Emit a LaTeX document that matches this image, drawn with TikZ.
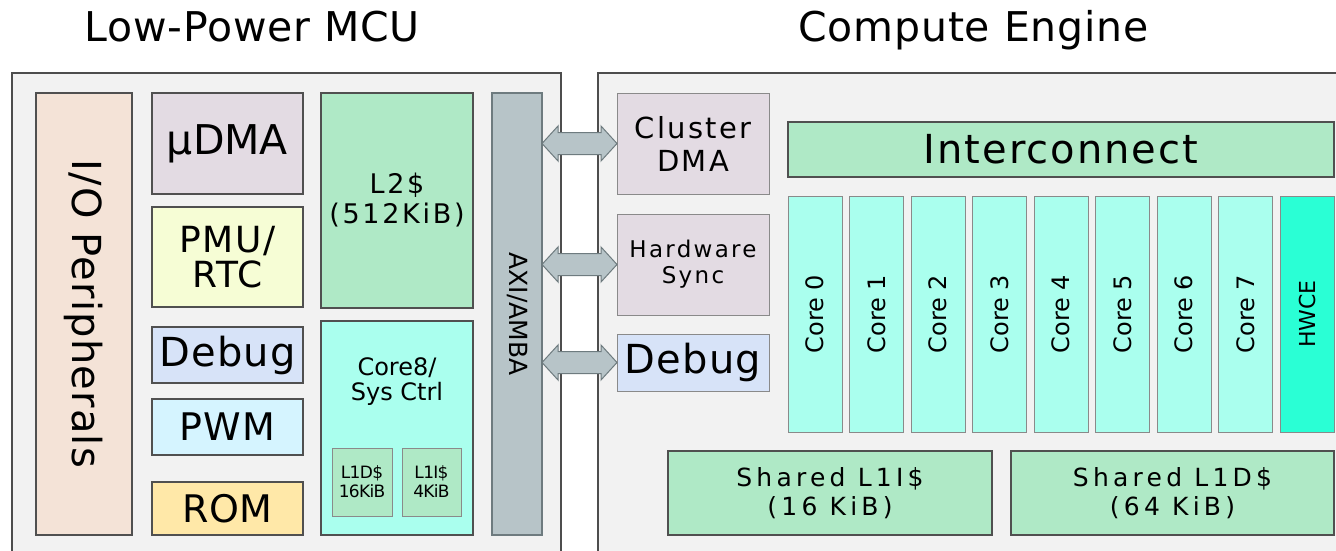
\documentclass[tikz,border=0pt]{standalone}
\usepackage{fontspec}
\setmainfont{DejaVu Sans}
\usetikzlibrary{calc}

\definecolor{panelfill}{HTML}{F2F2F2}
\definecolor{paneledge}{HTML}{4D4D4D}
\definecolor{darkedge}{HTML}{505050}
\definecolor{softedge}{HTML}{8A8A8A}
\definecolor{iofill}{HTML}{F4E3D7}
\definecolor{lavfill}{HTML}{E3DBE3}
\definecolor{pmufill}{HTML}{F6FDD5}
\definecolor{dbgfill}{HTML}{D7E3F8}
\definecolor{pwmfill}{HTML}{D5F4FF}
\definecolor{romfill}{HTML}{FFE8A8}
\definecolor{memfill}{HTML}{AFE9C6}
\definecolor{corefill}{HTML}{AAFFEE}
\definecolor{hwcefill}{HTML}{2AFFD5}
\definecolor{busfill}{HTML}{B7C4C8}
\definecolor{busedge}{HTML}{6E7B7F}

\newcommand\fs[2]{\fontsize{#1}{#2}\selectfont}
\newcommand\lsp[1]{\addfontfeatures{LetterSpace=#1}}

% fat double-headed arrow between the AXI bus and a cluster block
\newcommand\busarrow[1]{%
  \draw[busar] (axi.east |- #1.west) -- ++(16,-17.5) -- ++(0,6.5)
    -- ($(#1.west)+(-16,-11)$) -- ++(0,-6.5) -- (#1.west)
    -- ++(-16,17.5) -- ++(0,-6.5)
    -- ($(axi.east |- #1.west)+(16,11)$) -- ++(0,6.5) -- cycle;}

\begin{document}
\begin{tikzpicture}[x=1pt,y=-1pt,
  panel/.style={draw=paneledge, fill=panelfill, line width=1.5pt},
  blk/.style={draw=darkedge, line width=1.2pt, inner sep=0pt, outer sep=0pt,
              align=center, text=black},
  sblk/.style={blk, draw=softedge, line width=1pt},
  corebox/.style={sblk, fill=corefill, minimum width=54pt, minimum height=236pt,
                  font=\fs{24}{26}},
  busar/.style={draw=busedge, fill=busfill, line width=1pt, line join=miter},
  title/.style={inner sep=0pt, anchor=base, font=\fs{41}{46}\lsp{2}}]

\useasboundingbox (0,0) rectangle (1336,551);
\clip (0,0) rectangle (1336,551);
\fill[white] (0,0) rectangle (1336,551);

% titles
\node[title] (ttl) at (252,42) {Low-Power MCU};
\node[title] (ttr) at (973.5,42) {Compute Engine};

% the two panels
\draw[panel] (12,73) rectangle (561,580);
\draw[panel] (598,73) rectangle (1360,580);

% ---- Low-power MCU ----
\node[blk, fill=iofill, minimum width=96pt, minimum height=442pt,
      font=\fs{40}{44}\lsp{3}] (io) at (84,314)
  {\rotatebox{-90}{I/O Peripherals}};
\node[blk, fill=lavfill, minimum width=151pt, minimum height=101pt,
      font=\fs{41}{44}] (udma) at (227.5,143.5) {µDMA};
\node[blk, fill=pmufill, minimum width=151pt, minimum height=100pt,
      font=\fs{36}{35}\lsp{4}] (pmu) at (227.5,257) {PMU/\\RTC};
\node[blk, fill=dbgfill, minimum width=151pt, minimum height=56pt,
      font=\fs{40}{44}\lsp{3}] (dbgl) at (227.5,355) {Debug};
\node[blk, fill=pwmfill, minimum width=151pt, minimum height=56pt,
      font=\fs{38}{42}\lsp{3}] (pwm) at (227.5,427) {PWM};
\node[blk, fill=romfill, minimum width=151pt, minimum height=53pt,
      font=\fs{38}{42}] (rom) at (227.5,508.5) {ROM};
\node[blk, fill=memfill, minimum width=152pt, minimum height=215pt,
      font=\fs{27}{30}\lsp{10}] (l2) at (397,200.5) {L2\$\\(512KiB)};
\node[blk, fill=corefill, minimum width=152pt, minimum height=214pt] (core8) at (397,428) {};
\node[inner sep=0pt, align=center, font=\fs{24}{25}] (core8lbl) at (397,382)
  {Core8/\\Sys Ctrl};
\node[sblk, fill=memfill, minimum width=60pt, minimum height=68pt,
      font=\fs{17}{19}\lsp{-4}] (l1d) at (362,482) {L1D\$\\16KiB};
\node[sblk, fill=memfill, minimum width=59pt, minimum height=68pt,
      font=\fs{17}{19}\lsp{-4}] (l1i) at (431.5,482) {L1I\$\\4KiB};
\node[blk, fill=busfill, draw=busedge, minimum width=50pt, minimum height=442pt,
      font=\fs{25}{28}] (axi) at (517,314) {\rotatebox{-90}{AXI/AMBA}};

% ---- Compute engine ----
\node[sblk, fill=lavfill, minimum width=152pt, minimum height=101pt,
      font=\fs{29}{33}\lsp{8}] (cdma) at (693,143.5) {Cluster\\DMA};
\node[sblk, fill=lavfill, minimum width=152pt, minimum height=101pt,
      font=\fs{23}{26}\lsp{10}] (hws) at (693,264.5) {Hardware\\Sync};
\node[sblk, fill=dbgfill, minimum width=152pt, minimum height=57pt,
      font=\fs{40}{44}\lsp{3}] (dbgr) at (693,362.5) {Debug};
\node[blk, fill=memfill, minimum width=546pt, minimum height=55pt,
      font=\fs{40}{44}\lsp{5}] (ic) at (1061,149.5) {Interconnect};

\foreach \i in {0,...,7}
  \node[corebox] (core\i) at (815+61.5*\i,314) {\rotatebox{90}{Core \i}};
\node[sblk, fill=hwcefill, minimum width=54pt, minimum height=236pt,
      font=\fs{22}{24}] (hwce) at (1307,314) {\rotatebox{90}{HWCE}};

\node[blk, fill=memfill, minimum width=324pt, minimum height=84pt,
      font=\fs{25}{29}\lsp{17}] (sl1i) at (830,493) {Shared L1I\$\\(16 KiB)};
\node[blk, fill=memfill, minimum width=323pt, minimum height=84pt,
      font=\fs{25}{29}\lsp{17}] (sl1d) at (1172.5,493) {Shared L1D\$\\(64 KiB)};

% bus links into the cluster
\busarrow{cdma}
\busarrow{hws}
\busarrow{dbgr}
\end{tikzpicture}
\end{document}
